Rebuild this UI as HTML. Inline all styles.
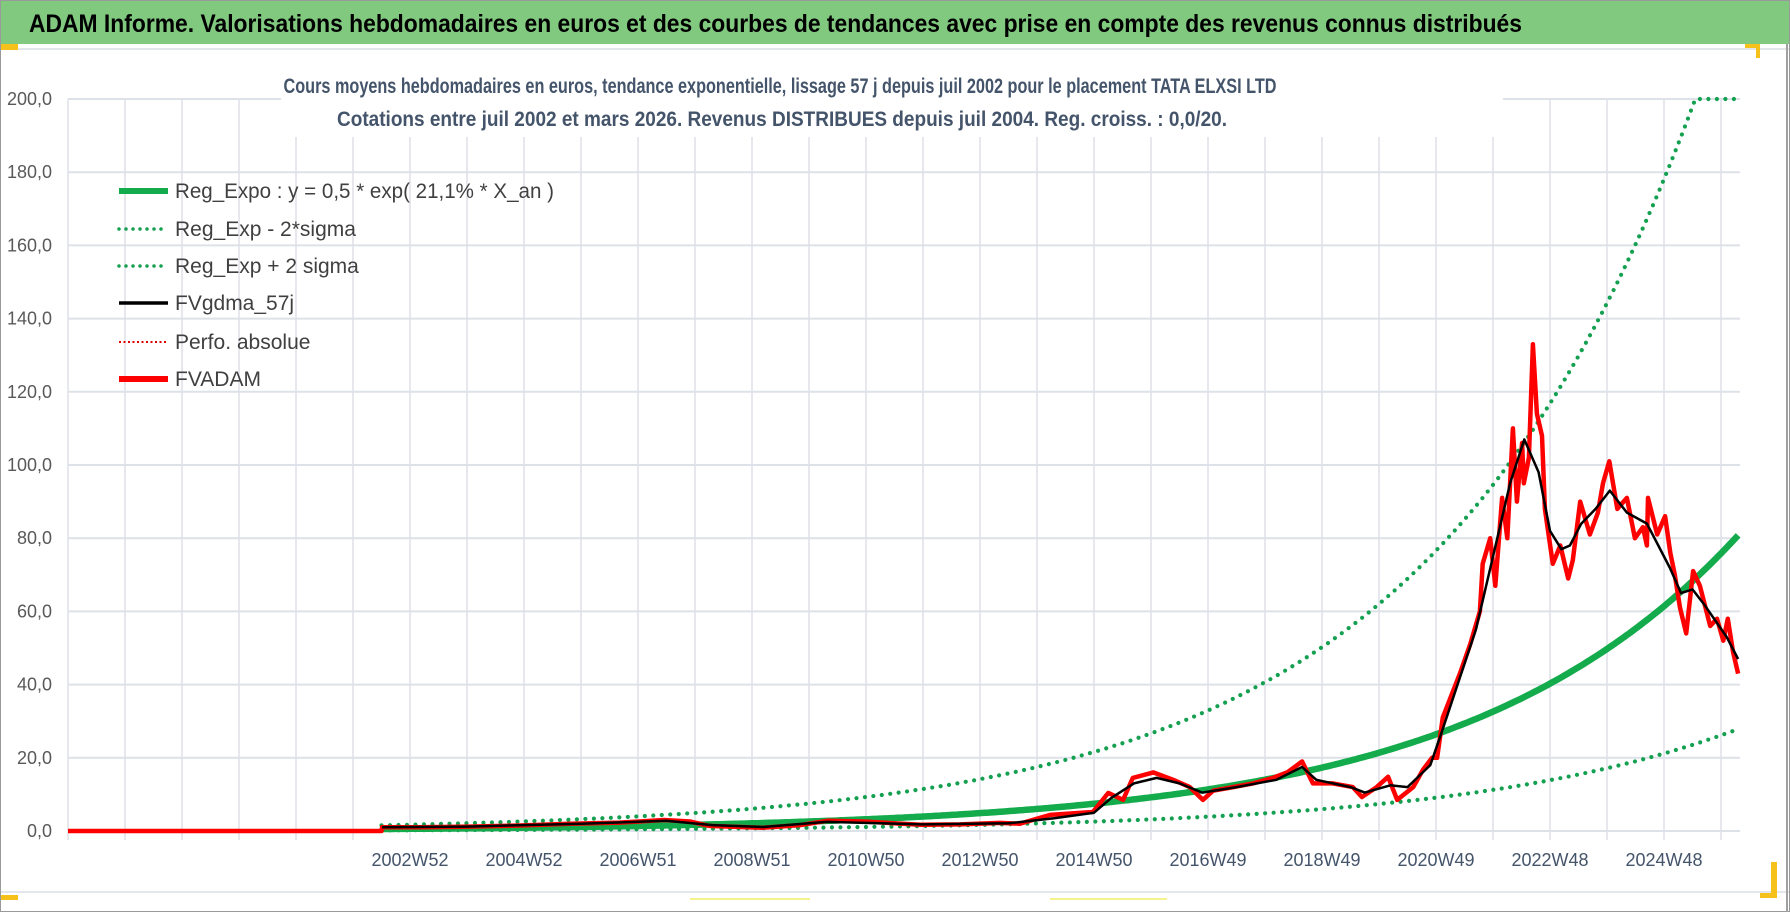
<!DOCTYPE html>
<html><head><meta charset="utf-8"><style>
html,body{margin:0;padding:0;background:#fff;}
svg{display:block;font-family:"Liberation Sans",sans-serif;}
</style></head><body>
<svg id="chart" width="1790" height="912" viewBox="0 0 1790 912" xmlns="http://www.w3.org/2000/svg">
<rect x="0" y="0" width="1790" height="912" fill="#fff"/>
<rect x="0" y="0" width="1790" height="44" fill="#80c97f"/>
<text x="29" y="32" font-size="25" font-weight="bold" fill="#000" textLength="1493" lengthAdjust="spacingAndGlyphs">ADAM Informe. Valorisations hebdomadaires en euros et des courbes de tendances avec prise en compte des revenus connus distribués</text>
<line x1="0" y1="49" x2="1790" y2="49" stroke="#e3e6ea" stroke-width="2"/>
<line x1="0" y1="892" x2="1790" y2="892" stroke="#e3e6ea" stroke-width="2"/>
<rect x="0" y="44" width="18" height="6" fill="#f5c11a"/>
<rect x="1745" y="44" width="15" height="4" fill="#f5c11a"/>
<rect x="1756" y="44" width="4" height="14" fill="#f5c11a"/>
<rect x="0" y="895" width="18" height="5" fill="#f5c11a"/>
<rect x="1771" y="862" width="6" height="36" fill="#f5c11a"/>
<rect x="1760" y="893" width="17" height="5" fill="#f5c11a"/>
<line x1="690" y1="899" x2="810" y2="899" stroke="#f3ef6a" stroke-width="1.5"/>
<line x1="1050" y1="899" x2="1167" y2="899" stroke="#f3ef6a" stroke-width="1.5"/>
<rect x="0.5" y="0.5" width="1789" height="911" fill="none" stroke="#9a9a9a" stroke-width="1"/>
<line x1="1787" y1="44" x2="1787" y2="912" stroke="#a0a0a0" stroke-width="2"/>
<g id="grid"></g>
<rect x="281" y="60" width="1222" height="77" fill="#fff"/>
<text x="780" y="93" text-anchor="middle" font-size="21" font-weight="bold" fill="#44546a" textLength="993" lengthAdjust="spacingAndGlyphs">Cours moyens hebdomadaires en euros, tendance exponentielle, lissage 57 j depuis juil 2002 pour le placement TATA ELXSI LTD</text>
<text x="782" y="126" text-anchor="middle" font-size="21" font-weight="bold" fill="#44546a" textLength="890" lengthAdjust="spacingAndGlyphs">Cotations entre juil 2002 et mars 2026. Revenus DISTRIBUES depuis juil 2004. Reg. croiss. : 0,0/20.</text>
<g id="axes"></g>
<g id="series"></g>
<g id="legend"></g>
</svg>
<script>
const yTicks=[0,20,40,60,80,100,120,140,160,180,200];
const yTickLabels=["0,0","20,0","40,0","60,0","80,0","100,0","120,0","140,0","160,0","180,0","200,0"];
const xTickYears=[2003,2005,2007,2009,2011,2013,2015,2017,2019,2021,2023,2025];
const xTickLabels=["2002W52","2004W52","2006W51","2008W51","2010W50","2012W50","2014W50","2016W49","2018W49","2020W49","2022W48","2024W48"];
const adamYears=[1997,2002.50,2002.51,2003.18,2004.05,2004.93,2005.81,2006.68,2007.46,2007.91,2008.25,2009.18,2009.84,2010.32,2010.96,2011.96,2012.65,2013.35,2013.70,2014.23,2014.98,2015.25,2015.51,2015.68,2016.04,2016.39,2016.68,2016.91,2017.09,2017.44,2017.79,2018.14,2018.39,2018.65,2018.84,2019.19,2019.54,2019.70,2019.96,2020.16,2020.32,2020.60,2020.77,2020.93,2021.02,2021.12,2021.42,2021.60,2021.77,2021.82,2021.95,2022.04,2022.16,2022.25,2022.35,2022.42,2022.51,2022.54,2022.63,2022.70,2022.77,2022.86,2022.91,2023.05,2023.18,2023.32,2023.40,2023.53,2023.70,2023.84,2023.93,2024.04,2024.18,2024.35,2024.49,2024.63,2024.70,2024.72,2024.88,2025.02,2025.11,2025.19,2025.28,2025.39,2025.51,2025.63,2025.81,2025.93,2026.04,2026.12,2026.21,2026.30];
const adamValues=[0,0,1.0,1.0,1.2,1.5,2.0,2.3,3.0,2.6,1.4,0.9,1.6,2.8,2.6,1.7,1.8,2.2,2.0,4.4,5.2,10.4,8.5,14.5,16,14,12,8.5,11,12,13,14.5,16,19,13,13,12,9.3,12,14.8,8.5,12,16.7,20,20,31,43,51,60,73,80,67,91,80,110,90,106,95,102,133,114,108,88,73,78,69,74,90,81,87,95,101,88,91,80,83,78,91,81,86,76,70,61,54,71,67,56,58,52,58,49,43];
const gdmaYears=[2002.51,2004,2006,2007.5,2008.3,2009.2,2010.3,2012,2013.5,2014.3,2015,2015.3,2015.7,2016.1,2016.5,2016.9,2017.5,2018.2,2018.65,2018.9,2019.5,2019.75,2020.2,2020.5,2020.9,2021.1,2021.4,2021.7,2022.0,2022.3,2022.55,2022.8,2023.0,2023.2,2023.35,2023.55,2023.8,2024.05,2024.35,2024.7,2024.9,2025.1,2025.3,2025.5,2025.7,2026.1,2026.3];
const gdmaValues=[1,1.2,2.0,2.8,1.6,1.1,2.5,1.8,2.1,3.5,5,9,13,14.5,13,10.5,12,14,17.5,14,12,10.5,12.5,12,18,27,41,55,75,95,107,98,82,77,78,84,88,93,87,84,78,72,65,66,62,53,47];
const regCoef=[0.5,0.211,2002.2];
const sigmaFactor=[2.9];
const regRange=[2002.5,2026.32];

const NS="http://www.w3.org/2000/svg";
const X=yr=>68+(yr-1997)*57;
const Y=v=>831-Math.min(v,200)*3.66;
function mk(tag,attrs,parent){const e=document.createElementNS(NS,tag);for(const k in attrs)e.setAttribute(k,attrs[k]);parent.appendChild(e);return e;}
const grid=document.getElementById('grid'),axes=document.getElementById('axes'),series=document.getElementById('series'),legend=document.getElementById('legend');
yTicks.forEach((v,i)=>{
  const l=mk('line',{x1:68,x2:1740,y1:Y(v),y2:Y(v),stroke:'#dde1e8','stroke-width':2},grid);
  
  
  const t=mk('text',{x:52,y:Y(v)+6,'text-anchor':'end','font-size':18,fill:'#595959'},axes);
  t.textContent=yTickLabels[i];
  
  
});
for(let k=0;k<=29;k++){
  const l=mk('line',{x1:X(1997+k),x2:X(1997+k),y1:99,y2:840,stroke:'#dde1e8','stroke-width':1.5},grid);
  
  
}
xTickYears.forEach((yr,i)=>{
  const t=mk('text',{x:X(yr),y:866,'text-anchor':'middle','font-size':18,fill:'#44546a'},axes);
  t.textContent=xTickLabels[i];
  
  
});
function pts(xs,ys){return xs.map((x,i)=>X(x).toFixed(1)+','+Y(ys[i]).toFixed(1)).join(' ');}
const regX=[],regY=[],upY=[],loY=[];
for(let yr=regRange[0];yr<=regRange[1]+1e-9;yr+=0.05){const v=regCoef[0]*Math.exp(regCoef[1]*(yr-regCoef[2]));regX.push(yr);regY.push(v);upY.push(v*sigmaFactor[0]);loY.push(v/sigmaFactor[0]);}
const dot={fill:'none',stroke:'#14a050','stroke-width':4.2,'stroke-linecap':'round','stroke-dasharray':'0 8.5'};
let p=mk('polyline',Object.assign({points:pts(regX,loY)},dot),series);


p=mk('polyline',Object.assign({points:pts(regX,upY)},dot),series);


p=mk('polyline',{points:pts(regX,regY),fill:'none',stroke:'#13ab4b','stroke-width':6.5,'stroke-linejoin':'round'},series);


p=mk('polyline',{points:pts(adamYears,adamValues),fill:'none',stroke:'#ff0000','stroke-width':4.5,'stroke-linejoin':'round'},series);


p=mk('polyline',{points:pts(gdmaYears,gdmaValues),fill:'none',stroke:'#000','stroke-width':2.5,'stroke-linejoin':'round'},series);


const legendLabels=["Reg_Expo : y = 0,5 * exp( 21,1% *  X_an )","Reg_Exp - 2*sigma","Reg_Exp + 2 sigma","FVgdma_57j","Perfo. absolue","FVADAM"];
const legendRows=[191,229,266,303,342,379];
const styles=[{stroke:'#13ab4b','stroke-width':6},Object.assign({},dot,{'stroke-width':3.5,'stroke-dasharray':'0 7'}),Object.assign({},dot,{'stroke-width':3.5,'stroke-dasharray':'0 7'}),{stroke:'#000','stroke-width':3.5},{stroke:'#e00000','stroke-width':2,'stroke-dasharray':'2 2.5'},{stroke:'#ff0000','stroke-width':6}];
legendLabels.forEach((lab,i)=>{
  const g=mk('g',{},legend);
  
  
  mk('line',Object.assign({x1:119,x2:168,y1:legendRows[i],y2:legendRows[i],'stroke-linecap':i==1||i==2?'round':'butt'},styles[i]),g);
  const t=mk('text',Object.assign({x:175,y:legendRows[i]+7,'font-size':21,fill:'#404040'},i==0?{textLength:379,lengthAdjust:'spacingAndGlyphs'}:{}),g);
  t.textContent=lab;
});
</script>
</body></html>
